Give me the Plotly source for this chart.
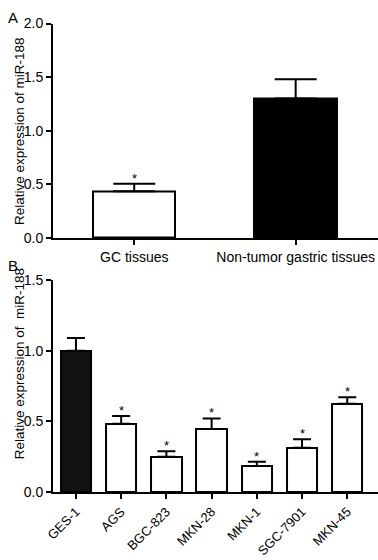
import plotly.graph_objects as go

# Panel A data
a_cats = ["GC tissues", "Non-tumor gastric tissues"]
a_vals = [0.435, 1.30]
a_err = [0.07, 0.18]
a_colors = ["white", "black"]
a_star = [True, False]

# Panel B data
b_cats = ["GES-1", "AGS", "BGC-823", "MKN-28", "MKN-1", "SGC-7901", "MKN-45"]
b_vals = [1.00, 0.483, 0.249, 0.446, 0.185, 0.313, 0.625]
b_err = [0.09, 0.055, 0.04, 0.075, 0.03, 0.06, 0.045]
b_colors = ["#111111", "white", "white", "white", "white", "white", "white"]
b_star = [False, True, True, True, True, True, True]

FONT = "Liberation Sans, Arial, sans-serif"
W, H = 378, 560

fig = go.Figure()
fig.add_trace(go.Bar(
    x=a_cats, y=a_vals, width=0.51,
    marker=dict(color=a_colors, line=dict(color="black", width=2)),
    error_y=dict(type="data", array=a_err, arrayminus=[0] * len(a_err), symmetric=False,
                 color="black", thickness=2, width=21),
    xaxis="x", yaxis="y", showlegend=False,
))
fig.add_trace(go.Bar(
    x=b_cats, y=b_vals, width=0.67,
    marker=dict(color=b_colors, line=dict(color="black", width=2)),
    error_y=dict(type="data", array=b_err, arrayminus=[0] * len(b_err), symmetric=False,
                 color="black", thickness=2, width=9),
    xaxis="x2", yaxis="y2", showlegend=False,
))

annotations = []
for c, v, e, s in zip(a_cats, a_vals, a_err, a_star):
    if s:
        annotations.append(dict(x=c, y=v + e, xref="x", yref="y", text="*", showarrow=False,
                                yanchor="bottom", yshift=-4, font=dict(size=13, family=FONT, color="black")))
for c, v, e, s in zip(b_cats, b_vals, b_err, b_star):
    if s:
        annotations.append(dict(x=c, y=v + e, xref="x2", yref="y2", text="*", showarrow=False,
                                yanchor="bottom", yshift=-4, font=dict(size=13, family=FONT, color="black")))

annotations += [
    dict(x=0, y=1 - 10 / H, xref="paper", yref="paper", text="A", showarrow=False, xshift=-2,
         xanchor="left", yanchor="middle", font=dict(size=15, family=FONT, color="black")),
    dict(x=0, y=1 - 265 / H, xref="paper", yref="paper", text="B", showarrow=False, xshift=-2,
         xanchor="left", yanchor="middle", font=dict(size=15, family=FONT, color="black")),
    dict(x=12 / W, y=1 - 127 / H, xref="paper", yref="paper", text="Relative expression of miR-188",
         textangle=-90, showarrow=False, xanchor="center", yanchor="middle",
         font=dict(size=13.5, family=FONT, color="black")),
    dict(x=12 / W, y=1 - 366 / H, xref="paper", yref="paper", text="Relative expression of\u00a0 miR-188",
         textangle=-90, showarrow=False, xanchor="center", yanchor="middle",
         font=dict(size=13.5, family=FONT, color="black")),
]

axis_common = dict(showline=True, linecolor="black", linewidth=2, ticks="outside",
                   ticklen=5, tickwidth=2, tickcolor="black", showgrid=False, zeroline=False,
                   tickfont=dict(size=14, family=FONT, color="black"))

fig.update_layout(
    width=W, height=H, margin=dict(l=0, r=0, t=0, b=0),
    paper_bgcolor="white", plot_bgcolor="white",
    bargap=0,
    xaxis=dict(domain=[46 / W, 1], range=[-0.503, 1.51], type="category", **axis_common, anchor="y"),
    yaxis=dict(domain=[1 - 236.7 / H, 1 - 16 / H], range=[0, 2], dtick=0.5, tickformat=".1f",
               anchor="x", **axis_common),
    xaxis2=dict(domain=[46 / W, 1], range=[-0.507, 6.68], type="category", tickangle=-45,
                anchor="y2", **{**axis_common, "tickfont": dict(size=13, family=FONT, color="black")}),
    yaxis2=dict(domain=[1 - 498.3 / H, 1 - 280 / H], range=[0, 1.5], dtick=0.5, tickformat=".1f",
                anchor="x2", **axis_common),
    annotations=annotations,
)

fig.write_html("out.html")
